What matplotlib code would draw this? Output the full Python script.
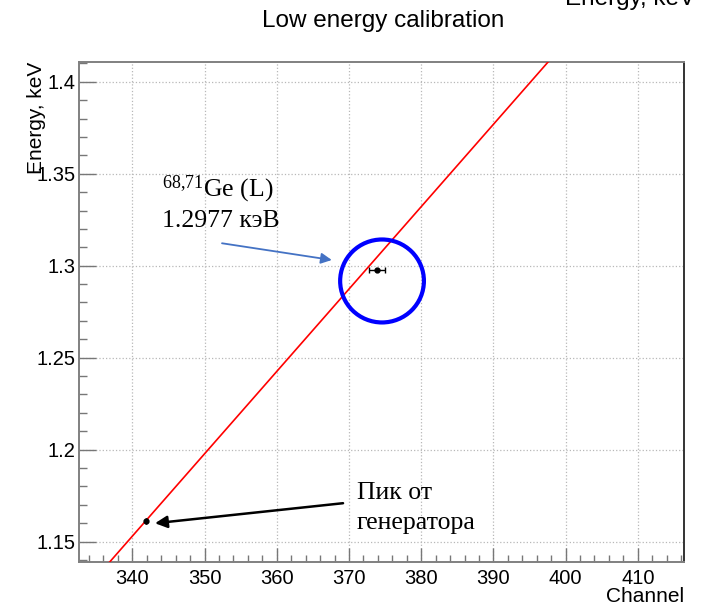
import matplotlib
matplotlib.use('Agg')
from matplotlib import pyplot as plt
from matplotlib.patches import Ellipse
from matplotlib.ticker import MultipleLocator

# calibration points (channel, energy keV)
channels = [341.94, 373.89]
energies = [1.1611, 1.2977]
channel_err = [0.0, 1.1]

# linear fit E = slope*ch + offset
fit_slope = 0.004477
fit_offset = -0.3692
fit_range = [330, 420]

x_ticks = [340, 350, 360, 370, 380, 390, 400, 410]
x_tick_labels = ['340', '350', '360', '370', '380', '390', '400', '410']
y_ticks = [1.15, 1.2, 1.25, 1.3, 1.35, 1.4]
y_tick_labels = ['1.15', '1.2', '1.25', '1.3', '1.35', '1.4']

plt.rcParams['font.family'] = ['Liberation Sans', 'DejaVu Sans']
plt.rcParams['mathtext.fontset'] = 'custom'
plt.rcParams['mathtext.rm'] = 'Liberation Serif'
plt.rcParams['mathtext.it'] = 'Liberation Serif:italic'

fig = plt.figure(figsize=(7.07, 6.06), dpi=100)
ax = fig.add_axes([0.1122, 0.0731, 0.8553, 0.8251])

fit_y = [fit_slope * x + fit_offset for x in fit_range]
ax.plot(fit_range, fit_y, color='red', lw=1.2, zorder=3)

ax.errorbar(channels, energies, xerr=channel_err, fmt='o', color='black',
            ms=3.5, lw=1, capsize=2, capthick=1, zorder=4)

ax.set_xlim(332.66, 416.4)
ax.set_ylim(1.1391, 1.4109)
ax.set_xticks(x_ticks, x_tick_labels)
ax.set_yticks(y_ticks, y_tick_labels)
ax.xaxis.set_minor_locator(MultipleLocator(2))
ax.yaxis.set_minor_locator(MultipleLocator(0.01))
ax.grid(True, which='major', ls=':', color='#b8b8b8', lw=0.9)

ax.tick_params(axis='x', which='major', direction='in', length=10, width=1,
               color='#777777', labelsize=14.5, pad=5)
ax.tick_params(axis='x', which='minor', direction='in', length=5, width=1,
               color='#777777')
ax.tick_params(axis='y', which='major', direction='in', length=12, width=1,
               color='#777777', labelsize=14.5, pad=3)
ax.tick_params(axis='y', which='minor', direction='in', length=6, width=1,
               color='#777777')
for side in ['left', 'bottom', 'top']:
    ax.spines[side].set_color('#808080')
    ax.spines[side].set_linewidth(1.4)
ax.spines['right'].set_color('#333333')
ax.spines['right'].set_linewidth(1.4)

ax.set_xlabel('Channel', loc='right', fontsize=15)
ax.xaxis.set_label_coords(1.0, -0.05)
ax.set_ylabel('Energy, keV', loc='top', fontsize=15)
ax.yaxis.set_label_coords(-0.055, 1.0)

fig.text(0.5424, 0.956, 'Low energy calibration', fontsize=17.5,
         ha='center', va='baseline')
fig.text(0.799, 0.9917, 'Energy, keV', fontsize=17.5, ha='left', va='baseline')

# annotations
serif = 'Liberation Serif'
ax.add_patch(Ellipse((374.58, 1.2917), 11.6, 0.0451, fill=False,
                     edgecolor='#0000ff', lw=3, zorder=5))
ax.text(344.11, 1.3375, r'$^{68{,}71}$Ge (L)', family=serif, fontsize=18.5,
        va='baseline')
ax.text(344.11, 1.3212, '1.2977 кэВ', family=serif, fontsize=18.5,
        va='baseline')
ax.annotate('', xy=(367.62, 1.3031), xytext=(352.42, 1.3122),
            arrowprops=dict(arrowstyle='-|>', color='#4472c4', lw=1.3,
                            mutation_scale=16, shrinkA=0, shrinkB=0))

ax.text(371.12, 1.1732, 'Пик от', family=serif, fontsize=18.5, va='baseline')
ax.text(371.12, 1.1569, 'генератора', family=serif, fontsize=18.5,
        va='baseline')
ax.annotate('', xy=(343.14, 1.1600), xytext=(369.18, 1.1709),
            arrowprops=dict(arrowstyle='-|>', color='black', lw=1.8,
                            mutation_scale=18, shrinkA=0, shrinkB=0))

fig.savefig('out.png', dpi=100)
